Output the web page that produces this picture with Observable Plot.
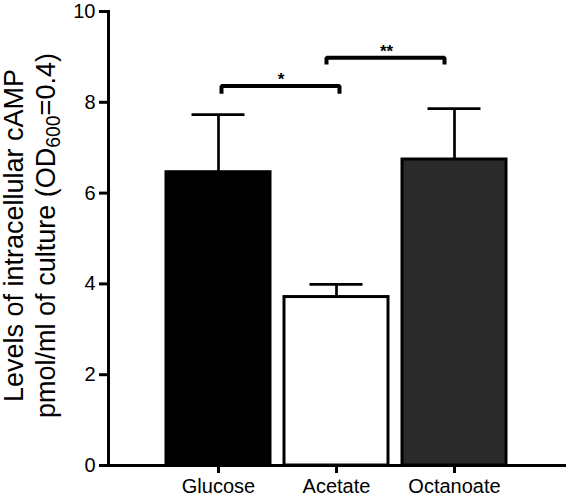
<!DOCTYPE html>
<html><head><meta charset="utf-8">
<script src="https://cdn.jsdelivr.net/npm/d3@7"></script>
<script src="https://cdn.jsdelivr.net/npm/@observablehq/plot@0.6"></script>
<style>html,body{margin:0;padding:0;background:#fff}</style>
</head><body><div id="chart"></div>
<script>
const categories = ["Glucose", "Acetate", "Octanoate"];
const meanValues = [6.46, 3.71, 6.74];
const errorValues = [1.27, 0.28, 1.12];
const barFills = ["#000000", "#ffffff", "#2a2a2a"];
const yTickValues = [0, 2, 4, 6, 8, 10];
const bracketPairs = [["Glucose", "Acetate"], ["Acetate", "Octanoate"]];
const bracketHeights = [8.36, 8.98];
const bracketEnds = [8.19, 8.83];
const bracketLabels = ["*", "**"];
const yLabelLine1 = "Levels of intracellular cAMP";
const yLabelLine2Parts = ["pmol/ml of culture (OD", "600", "=0.4)"];

const data = categories.map((c, i) => ({category: c, mean: meanValues[i], err: errorValues[i], fill: barFills[i]}));
const yLabelLine2 = yLabelLine2Parts.join("");

const font = "'Liberation Sans', Arial, sans-serif";
const labelSize = 27;
const bracketDx = [3, -10];
const starDx = [62.5, 50];

const bracketMarks = bracketPairs.flatMap((pair, i) => {
  const pts = [
    {x: pair[0], y: bracketEnds[i]},
    {x: pair[0], y: bracketHeights[i]},
    {x: pair[1], y: bracketHeights[i]},
    {x: pair[1], y: bracketEnds[i]}
  ];
  return [
    Plot.line(pts, {x: "x", y: "y", dx: bracketDx[i], stroke: "black", strokeWidth: 4, strokeLinejoin: "miter", strokeLinecap: "butt"}),
    Plot.text([bracketLabels[i]], {x: () => pair[0], y: () => bracketHeights[i], text: d => d, dx: starDx[i], dy: -1, lineAnchor: "bottom", fontSize: 17, fontWeight: "bold", fill: "black"})
  ];
});

const chart = Plot.plot({
  width: 566,
  height: 497,
  marginLeft: 108,
  marginRight: 0,
  marginTop: 11,
  marginBottom: 32,
  style: {fontFamily: font, fontSize: "20px", color: "black", background: "white", overflow: "visible"},
  x: {domain: categories, paddingInner: 0.118, paddingOuter: 0.475, insetRight: 2, label: null},
  y: {domain: [0, 10], label: null},
  color: {type: "identity"},
  marks: [
    Plot.barY(data, {x: "category", y: "mean", fill: "fill", stroke: "black", strokeWidth: 3}),
    Plot.ruleX(data, {x: "category", y1: "mean", y2: d => d.mean + d.err, stroke: "black", strokeWidth: 2.7}),
    Plot.tickY(data, {x: "category", y: d => d.mean + d.err, stroke: "black", strokeWidth: 2.7, insetLeft: 25.5, insetRight: 25.5}),
    ...bracketMarks,
    Plot.axisY({ticks: yTickValues, tickSize: 9, tickPadding: 4, fontSize: 20, strokeWidth: 3, tickFormat: d => String(d), label: null}),
    Plot.axisX({tickSize: 8, tickPadding: 5, fontSize: 20, strokeWidth: 3, label: null}),
    Plot.frame({anchor: "left", stroke: "black", strokeWidth: 3}),
    Plot.ruleY([0], {stroke: "black", strokeWidth: 3}),
    Plot.text([yLabelLine1], {text: d => d, frameAnchor: "left", rotate: -90, lineAnchor: "bottom", textAnchor: "middle", dx: -86, dy: -3, fontSize: labelSize, fill: "black"}),
    Plot.text([yLabelLine2], {text: d => d, frameAnchor: "left", rotate: -90, lineAnchor: "bottom", textAnchor: "middle", dx: -54, dy: -3, fontSize: labelSize, fill: "black"})
  ]
});
document.getElementById("chart").appendChild(chart);

// subscript for OD600
const t2 = Array.from(chart.querySelectorAll("text")).find(t => t.textContent === yLabelLine2);
if (t2) {
  t2.textContent = "";
  const ns = "http://www.w3.org/2000/svg";
  const subSize = labelSize * 0.72;
  const shift = labelSize * 0.2;
  const a = document.createElementNS(ns, "tspan");
  a.textContent = yLabelLine2Parts[0];
  const b = document.createElementNS(ns, "tspan");
  b.textContent = yLabelLine2Parts[1];
  b.setAttribute("font-size", subSize);
  b.setAttribute("dy", shift);
  const c = document.createElementNS(ns, "tspan");
  c.textContent = yLabelLine2Parts[2];
  c.setAttribute("dy", -shift);
  t2.append(a, b, c);
}
</script>
</body></html>
